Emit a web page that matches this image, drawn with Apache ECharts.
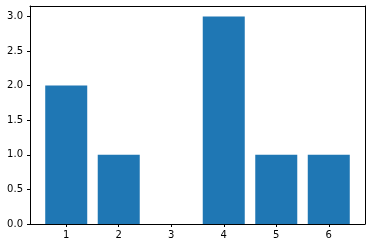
<!DOCTYPE html>
<html><head><meta charset="utf-8">
<script src="https://cdn.jsdelivr.net/npm/echarts@6/dist/echarts.min.js"></script>
<style>html,body{margin:0;padding:0;background:#fff}#c{width:372px;height:248px}</style>
</head><body><div id="c"></div>
<script>
const categories = [1, 2, 3, 4, 5, 6];
const values = [2, 1, 0, 3, 1, 1];
const yTicks = [0, 0.5, 1, 1.5, 2, 2.5, 3];

const chart = echarts.init(document.getElementById('c'), null, {renderer: 'canvas'});
const font = {fontFamily: 'DejaVu Sans', fontSize: 10, color: '#000'};
const frameAxis = (pos, min, max) => ({
  type: 'value', position: pos, min: min, max: max, z: 10,
  splitLine: {show: false}, axisTick: {show: false}, axisLabel: {show: false},
  axisLine: {show: true, onZero: false, lineStyle: {color: '#000', width: 1}}
});
chart.setOption({
  animation: false,
  grid: {left: 30, right: 7, top: 6, bottom: 24, show: false},
  xAxis: [{
    type: 'value', position: 'bottom', min: 0.31, max: 6.69, z: 10,
    splitLine: {show: false},
    axisLine: {show: true, onZero: false, lineStyle: {color: '#000', width: 1}},
    axisTick: {show: true, length: 3, lineStyle: {color: '#000'}, customValues: categories},
    axisLabel: Object.assign({customValues: categories, margin: 6, formatter: v => String(v)}, font)
  }, frameAxis('top', 0.31, 6.69)],
  yAxis: [{
    type: 'value', position: 'left', min: 0, max: 3.15, z: 10,
    splitLine: {show: false},
    axisLine: {show: true, onZero: false, lineStyle: {color: '#000', width: 1}},
    axisTick: {show: true, length: 3, lineStyle: {color: '#000'}, customValues: yTicks},
    axisLabel: Object.assign({customValues: yTicks, margin: 7, formatter: v => v.toFixed(1)}, font)
  }, frameAxis('right', 0, 3.15)],
  series: [{
    type: 'custom',
    z: 1,
    xAxisIndex: 0, yAxisIndex: 0,
    data: categories.map((c, i) => [c, values[i]]),
    encode: {x: 0, y: 1},
    renderItem: function (params, api) {
      const x = api.value(0), y = api.value(1);
      const p0 = api.coord([x - 0.4, y]);
      const p1 = api.coord([x + 0.4, 0]);
      return {type: 'rect', shape: {x: p0[0], y: p0[1], width: p1[0] - p0[0], height: p1[1] - p0[1]},
              style: {fill: '#1f77b4', stroke: null, lineWidth: 0}};
    }
  }]
});
</script></body></html>
